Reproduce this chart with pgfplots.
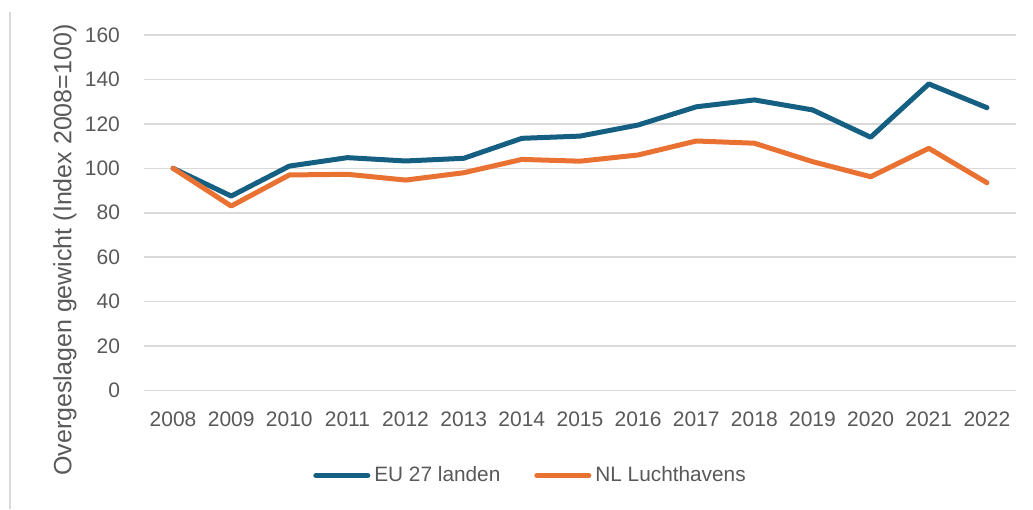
\documentclass[border=0pt]{standalone}
\usepackage{pgfplots}
\pgfplotsset{compat=1.18}
\usepackage{fontspec}
\setmainfont{Liberation Sans}
\definecolor{eublue}{HTML}{156082}
\definecolor{nlorange}{HTML}{E97132}
\definecolor{gridgray}{HTML}{D9D9D9}
\definecolor{txtgray}{HTML}{595959}
\begin{document}
\begin{tikzpicture}
\useasboundingbox (0,0) rectangle (516.5pt,254.5pt);
\draw[gridgray, line width=1pt] (5pt,0) -- (5pt,248.5pt);
\begin{axis}[
  at={(72pt,59.35pt)}, anchor=south west,
  scale only axis, width=436pt, height=177.6pt,
  xmin=2007.5, xmax=2022.5, ymin=0, ymax=160,
  xtick={2008,...,2022},
  xticklabel style={/pgf/number format/1000 sep={}},
  ytick={0,20,...,160},
  axis line style={draw=none},
  major tick length=0pt,
  ymajorgrids, grid style={gridgray, line width=0.8pt},
  /pgf/number format/assume math mode=true,
  tick label style={font=\fontsize{10.5}{12}\selectfont, text=txtgray},
  yticklabel style={xshift=-8.5pt},
  xticklabel style={yshift=-7pt},
  ylabel={Overgeslagen gewicht (Index 2008=100)},
  ylabel style={font=\fontsize{12.5}{14}\selectfont, text=txtgray, at={(axis description cs:-0.0906,0.395)}, anchor=center},
  legend style={at={(axis description cs:0.4444,-0.2402)}, anchor=center, draw=none, font=\fontsize{10.4}{12}\selectfont, text=txtgray, legend columns=2, /tikz/every even column/.append style={column sep=15pt}},
  legend cell align=left,
  legend image code/.code={\draw[#1, line width=2.5pt, line cap=round] (0pt,0pt) -- (26pt,0pt);},
]
\addplot[eublue, line width=2.5pt, line join=round, line cap=round] coordinates {
(2008,100) (2009,87.5) (2010,101) (2011,104.8) (2012,103.3) (2013,104.5) (2014,113.5) (2015,114.5) (2016,119.5) (2017,127.7) (2018,130.8) (2019,126.3) (2020,114) (2021,138) (2022,127.3)
};
\addlegendentry{EU 27 landen}
\addplot[nlorange, line width=2.5pt, line join=round, line cap=round] coordinates {
(2008,100) (2009,83) (2010,97) (2011,97.3) (2012,94.7) (2013,98) (2014,104) (2015,103.2) (2016,106) (2017,112.3) (2018,111.3) (2019,103) (2020,96.2) (2021,109) (2022,93.5)
};
\addlegendentry{NL Luchthavens}
\draw[gridgray, line width=0.8pt] (rel axis cs:0,0) -- (rel axis cs:1,0);
\end{axis}
\end{tikzpicture}
\end{document}
